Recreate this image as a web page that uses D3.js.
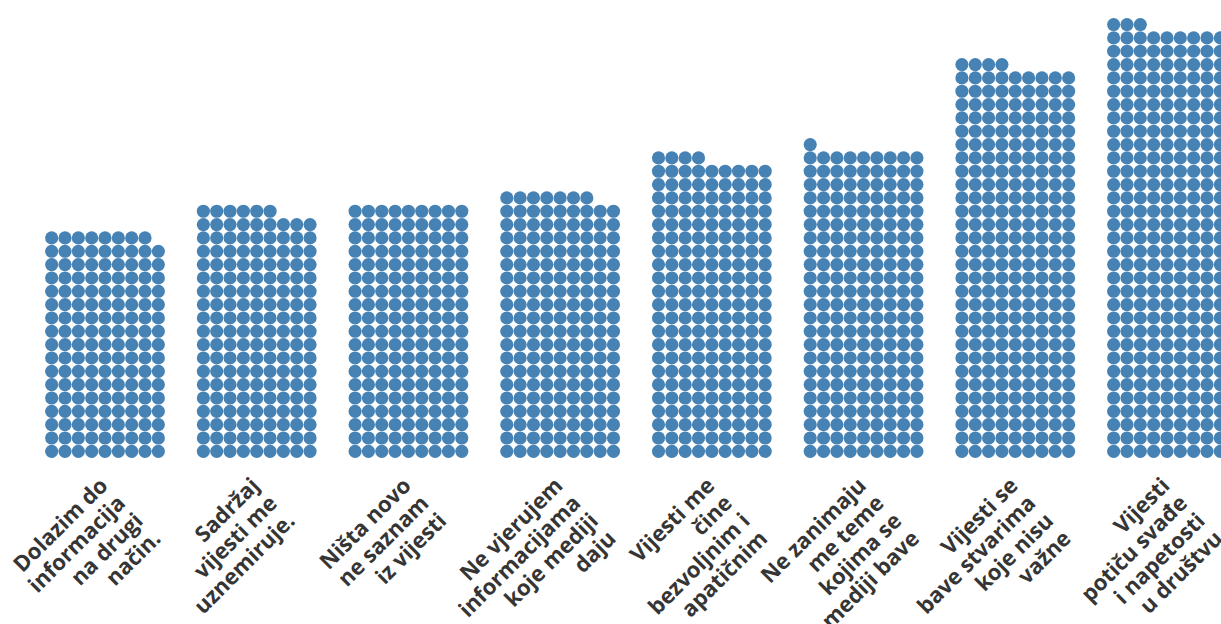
<!DOCTYPE html>
<html>
<head>
<meta charset="utf-8">
<script src="https://cdn.jsdelivr.net/npm/d3@7"></script>
<style>
  body { margin: 0; background: #fff; }
  .label { font-family: "Open Sans", sans-serif; font-weight: 700; font-size: 22px; fill: #353535; }
</style>
</head>
<body>
<script>
// categorieen (regels van elk label) en aantal punten per kolom
var categories = [
    ["Dolazim do", "informacija", "na drugi", "način."],
    ["Sadržaj", "vijesti me", "uznemiruje."],
    ["Ništa novo", "ne saznam", "iz vijesti"],
    ["Ne vjerujem", "informacijama", "koje mediji", "daju"],
    ["Vijesti me", "čine", "bezvoljnim i", "apatičnim"],
    ["Ne zanimaju", "me teme", "kojima se", "mediji bave"],
    ["Vijesti se", "bave stvarima", "koje nisu", "važne"],
    ["Vijesti", "potiču svađe", "i napetosti", "u društvu"]
];
var values = [152, 168, 171, 178, 202, 208, 265, 291];
var perRow = 9;

var width = 1221, height = 624;
var bottom = 458;

var svg = d3.select("body").append("svg")
    .attr("width", width)
    .attr("height", height);

// kolommen
var x = d3.scaleBand()
    .domain(d3.range(categories.length))
    .range([45, 1227])
    .paddingInner(31.67 / 151.67)
    .paddingOuter(0);

var step = x.bandwidth() / perRow;
var maxRows = Math.ceil(d3.max(values) / perRow);

// positie binnen een kolom
var gx = d3.scaleLinear().domain([0, perRow]).range([0, x.bandwidth()]);
var gy = d3.scaleLinear().domain([0, maxRows]).range([bottom, bottom - maxRows * step]);

var cols = svg.selectAll(".col")
    .data(values)
    .enter().append("g")
    .attr("class", "col")
    .attr("transform", function(d, i) { return "translate(" + x(i) + ",0)"; });

cols.selectAll("circle")
    .data(function(d) { return d3.range(d); })
    .enter().append("circle")
    .attr("cx", function(k) { return gx(k % perRow + 0.5); })
    .attr("cy", function(k) { return gy(Math.floor(k / perRow) + 0.5); })
    .attr("r", step / 2 - 0.1)
    .attr("fill", "#4682b4");

// schuine labels, rechts uitgelijnd
var lineH = 25;
var labels = svg.selectAll(".label")
    .data(categories)
    .enter().append("text")
    .attr("class", "label")
    .attr("text-anchor", "end")
    .attr("transform", function(d, i) {
        return "translate(" + (x(i) + x.bandwidth() / 2 + 4) + "," + 487 + ") rotate(-45)";
    });

labels.selectAll("tspan")
    .data(function(d) { return d; })
    .enter().append("tspan")
    .attr("x", 0)
    .attr("y", function(d, j) { return j * lineH; })
    .text(function(d) { return d; });
</script>
</body>
</html>
